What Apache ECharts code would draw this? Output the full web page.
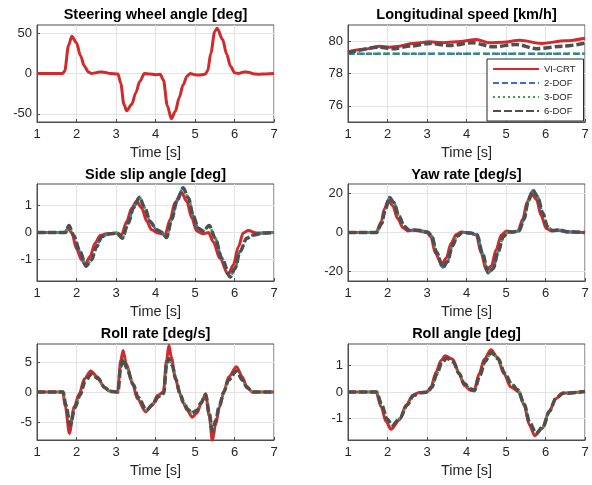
<!DOCTYPE html>
<html><head><meta charset="utf-8">
<script src="https://cdn.jsdelivr.net/npm/echarts@6/dist/echarts.min.js"></script>
<style>html,body{margin:0;padding:0;background:#fff}#c{width:592px;height:485px}</style>
</head><body><div id="c"></div>
<script>
// ---- data: [time s, value] pairs ----
const xTicks = [1, 2, 3, 4, 5, 6, 7];
const panelTitles = ['Steering wheel angle [deg]', 'Longitudinal speed [km/h]', 'Side slip angle [deg]', 'Yaw rate [deg/s]', 'Roll rate [deg/s]', 'Roll angle [deg]'];
const seriesNames = ['VI-CRT', '2-DOF', '3-DOF', '6-DOF'];
const yRanges = [[-60, 60], [75, 81], [-1.8, 1.8], [-25, 25], [-8, 8], [-1.8, 1.8]];
const yTicks = [[-50, 0, 50], [76, 78, 80], [-1, 0, 1], [-20, 0, 20], [-5, 0, 5], [-1, 0, 1]];

const steerCRT = [[1,0],[1.65,0],[1.7,3],[1.8,35],[1.88,46],[2.0,38],[2.1,22],[2.2,9],[2.3,2],[2.38,0],[2.5,1],[2.6,2],[2.7,1.5],[2.85,0],[3.05,-0.5],[3.12,-12],[3.2,-38],[3.27,-46],[3.4,-38],[3.5,-24],[3.6,-10],[3.72,0],[3.85,-0.5],[4.0,-1.5],[4.12,-1],[4.2,-8],[4.3,-40],[4.4,-56],[4.5,-47],[4.6,-30],[4.7,-14],[4.8,-3],[4.88,0],[5.0,-1.5],[5.1,-2],[5.25,-1],[5.32,3],[5.4,25],[5.5,52],[5.56,56],[5.7,42],[5.8,24],[5.9,9],[6.0,1],[6.1,0],[6.25,2],[6.35,1.5],[6.5,-0.5],[6.6,-1],[6.8,-0.5],[7,0]];

const speedCRT = [[1,79.34],[1.37,79.48],[1.8,79.69],[2.05,79.63],[2.3,79.69],[2.64,79.86],[3.06,79.96],[3.4,79.9],[3.74,79.96],[4.25,80.1],[4.58,79.9],[4.92,79.94],[5.35,80.05],[5.9,79.86],[6.5,80.02],[7,80.18]];
const speed2DOF = [[1,79.22],[7,79.22]];
const speed3DOF = [[1,79.22],[7,79.22]];
const speed6DOF = [[1,79.28],[1.8,79.63],[2.13,79.53],[2.6,79.7],[3.06,79.86],[3.57,79.73],[4.16,79.9],[4.67,79.65],[5.26,79.8],[5.77,79.53],[6.44,79.69],[7,79.88]];

const slipCRT = [[1,0],[1.7,0],[1.79,0.14],[1.88,0],[2.0,-0.6],[2.13,-1.02],[2.22,-1.19],[2.34,-0.9],[2.47,-0.4],[2.6,-0.11],[2.76,-0.05],[3.02,-0.02],[3.14,-0.09],[3.27,0.41],[3.4,0.91],[3.52,1.16],[3.65,0.91],[3.78,0.41],[3.9,0.1],[4.07,-0.02],[4.24,-0.09],[4.37,0.48],[4.49,1.1],[4.66,1.48],[4.79,1.16],[4.92,0.54],[5.04,0.06],[5.21,-0.05],[5.34,0],[5.46,-0.34],[5.63,-0.96],[5.84,-1.56],[5.97,-1.21],[6.1,-0.52],[6.22,-0.02],[6.35,0.07],[6.56,-0.02],[7,0]];
const slip6DOF = [[1,0],[1.72,0],[1.81,0.26],[1.92,-0.09],[2.09,-0.71],[2.24,-1.25],[2.38,-1.02],[2.51,-0.52],[2.64,-0.15],[2.85,-0.05],[3.02,-0.02],[3.16,-0.21],[3.31,0.35],[3.44,0.91],[3.59,1.31],[3.73,0.91],[3.86,0.41],[4.03,0.1],[4.16,0.01],[4.28,-0.19],[4.41,0.48],[4.54,1.16],[4.7,1.66],[4.83,1.29],[4.96,0.6],[5.08,0.16],[5.21,0.06],[5.36,0.26],[5.51,-0.21],[5.68,-0.96],[5.89,-1.65],[6.01,-1.34],[6.14,-0.71],[6.31,-0.21],[6.48,-0.09],[6.73,-0.02],[7,0]];

const yawCRT = [[1,0],[1.71,0],[1.84,5.4],[1.92,12.1],[2.02,16.6],[2.13,13.8],[2.26,7.1],[2.39,2.5],[2.51,0.8],[2.64,1.2],[2.81,0.8],[3.0,0],[3.1,-2.2],[3.21,-10.6],[3.37,-16.4],[3.49,-13.1],[3.61,-5.5],[3.74,-1],[3.87,0.2],[4.08,-0.2],[4.25,-1.3],[4.37,-10.6],[4.5,-19.4],[4.63,-17.3],[4.75,-8.9],[4.88,-1.3],[5.01,0.8],[5.18,0.3],[5.3,0.8],[5.43,7.1],[5.53,15.5],[5.64,20],[5.77,17.1],[5.89,8.7],[6.02,2],[6.15,0.8],[6.32,1.2],[6.53,0.3],[7,0]];
const yaw6DOF = [[1,0],[1.72,0],[1.85,4.5],[1.94,11.5],[2.05,18],[2.16,15.5],[2.29,8.5],[2.42,3.2],[2.55,1.2],[2.68,1.3],[2.85,1],[3.02,0.2],[3.12,-1.8],[3.24,-10],[3.4,-18],[3.52,-15],[3.64,-7],[3.77,-1.8],[3.9,0],[4.1,-0.2],[4.27,-1.2],[4.4,-10.5],[4.55,-20.8],[4.68,-18.5],[4.8,-10],[4.93,-2.2],[5.05,0.2],[5.2,0.3],[5.33,0.8],[5.46,7],[5.56,16],[5.68,21.8],[5.8,18.5],[5.93,10],[6.05,3],[6.18,1],[6.35,1.3],[6.56,0.4],[7,0]];

const rollRateCRT = [[1,0],[1.65,0],[1.72,-2.5],[1.82,-6.9],[1.94,-2.5],[2.07,-0.3],[2.2,2.2],[2.36,3.5],[2.53,2.5],[2.7,0.8],[2.83,0.15],[3.04,0],[3.12,5.3],[3.18,6.9],[3.26,4.7],[3.42,1.4],[3.54,-1.1],[3.75,-3.3],[3.92,-2.2],[4.05,-0.6],[4.2,0],[4.28,5.3],[4.34,7.8],[4.4,5.8],[4.5,2.5],[4.6,0],[4.7,-1.8],[4.8,-3],[4.93,-4.2],[5.05,-3.5],[5.15,-2],[5.27,-0.3],[5.36,-4],[5.44,-8.1],[5.52,-5.5],[5.62,-2.5],[5.73,0],[5.85,2.5],[6.05,4.2],[6.2,2.5],[6.3,1],[6.45,0],[7,0]];
const rollRate6DOF = [[1,0],[1.66,0],[1.73,-2.2],[1.84,-5.5],[1.96,-2.6],[2.09,-0.5],[2.22,1.8],[2.38,3.0],[2.55,2.2],[2.72,0.7],[2.85,0.1],[3.05,0],[3.12,4.2],[3.18,5.5],[3.27,4.0],[3.44,1.2],[3.56,-0.9],[3.77,-3.0],[3.94,-2.0],[4.07,-0.8],[4.21,-0.2],[4.28,4.5],[4.33,5.6],[4.42,4.5],[4.52,2.0],[4.62,-0.3],[4.72,-1.8],[4.82,-2.9],[4.92,-3.5],[5.05,-3.1],[5.15,-1.8],[5.27,-0.4],[5.36,-3.5],[5.44,-6.5],[5.52,-4.8],[5.62,-2.2],[5.73,0],[5.85,2.0],[6.05,3.5],[6.2,2.0],[6.32,0.7],[6.47,0],[7,0]];

const rollCRT = [[1,0],[1.71,0],[1.84,-0.56],[1.96,-1.1],[2.09,-1.4],[2.3,-1.05],[2.47,-0.5],[2.64,-0.12],[2.8,-0.02],[3.0,0],[3.1,0.19],[3.23,0.74],[3.35,1.17],[3.46,1.36],[3.65,1.23],[3.82,0.68],[3.94,0.25],[4.11,0.06],[4.19,0.04],[4.32,0.68],[4.45,1.23],[4.62,1.58],[4.78,1.3],[4.95,0.68],[5.12,0.19],[5.33,0],[5.46,-0.5],[5.59,-1.23],[5.73,-1.64],[5.92,-1.36],[6.09,-0.74],[6.26,-0.25],[6.43,-0.04],[7,0.02]];
const roll6DOF = [[1,0],[1.72,0],[1.86,-0.5],[1.98,-1.0],[2.12,-1.25],[2.32,-0.98],[2.5,-0.48],[2.66,-0.13],[2.83,-0.03],[3.02,0],[3.12,0.17],[3.25,0.68],[3.37,1.08],[3.5,1.27],[3.66,1.13],[3.82,0.68],[3.94,0.32],[4.1,0.12],[4.2,0.06],[4.34,0.62],[4.47,1.15],[4.63,1.48],[4.8,1.25],[4.97,0.7],[5.14,0.3],[5.3,0.08],[5.46,-0.45],[5.6,-1.15],[5.76,-1.55],[5.94,-1.3],[6.1,-0.72],[6.27,-0.22],[6.45,-0.05],[7,0.02]];

// ---- layout & style ----
const FONT = '"Liberation Sans", Arial, Helvetica, sans-serif';
const INK = '#262626';
const BOX = '#4d4d4d';
const GRIDC = '#e3e3e3';
const STY = {
  'VI-CRT': {color: '#d22a2a', width: 3, type: 'solid'},
  '2-DOF': {color: '#3a6fc4', width: 2.5, type: [6, 3]},
  '3-DOF': {color: '#3aa34a', width: 2.5, type: [2, 3]},
  '6-DOF': {color: '#4f4f4f', width: 3.5, type: [8, 3]}
};
const grids = [
  {left: 37, top: 25, width: 237, height: 97},
  {left: 348, top: 25, width: 237, height: 97},
  {left: 37, top: 184, width: 237, height: 97},
  {left: 348, top: 184, width: 237, height: 97},
  {left: 37, top: 344, width: 237, height: 96},
  {left: 348, top: 344, width: 237, height: 96}
];
const titleY = [7, 167, 326];

const panels = [
  [['VI-CRT', steerCRT]],
  [['VI-CRT', speedCRT], ['2-DOF', speed2DOF], ['3-DOF', speed3DOF], ['6-DOF', speed6DOF]],
  [['VI-CRT', slipCRT], ['2-DOF', slip6DOF], ['3-DOF', slip6DOF], ['6-DOF', slip6DOF]],
  [['VI-CRT', yawCRT], ['2-DOF', yaw6DOF], ['3-DOF', yaw6DOF], ['6-DOF', yaw6DOF]],
  [['VI-CRT', rollRateCRT], ['3-DOF', rollRate6DOF], ['6-DOF', rollRate6DOF]],
  [['VI-CRT', rollCRT], ['3-DOF', roll6DOF], ['6-DOF', roll6DOF]]
];

const series = [];
panels.forEach((p, gi) => {
  p.forEach(([name, data]) => {
    const s = STY[name];
    series.push({
      type: 'line', name, data, xAxisIndex: gi, yAxisIndex: gi,
      showSymbol: false, symbol: 'none', smooth: 0.3, smoothMonotone: 'x',
      itemStyle: {color: s.color},
      lineStyle: {color: s.color, width: s.width, type: s.type, cap: 'butt'},
      emphasis: {disabled: true}, silent: true, clip: true
    });
  });
});

const option = {
  animation: false,
  backgroundColor: '#fff',
  textStyle: {fontFamily: FONT},
  title: panelTitles.map((t, i) => ({
    text: t,
    left: grids[i].left + grids[i].width / 2,
    top: titleY[Math.floor(i / 2)],
    textAlign: 'center',
    padding: 0,
    textStyle: {fontFamily: FONT, fontSize: 14.5, fontWeight: 'bold', color: '#000', lineHeight: 16}
  })),
  legend: {
    data: seriesNames,
    orient: 'vertical',
    left: 487, top: 59,
    padding: [5, 8, 5, 5],
    itemWidth: 46, itemHeight: 10, itemGap: 4,
    backgroundColor: '#fff',
    borderColor: INK, borderWidth: 1, borderRadius: 0,
    itemStyle: {opacity: 0},
    textStyle: {fontFamily: FONT, fontSize: 9.5, color: INK},
    selectedMode: false
  },
  grid: grids.map(g => Object.assign({show: true, borderColor: BOX, borderWidth: 1, backgroundColor: '#fff', containLabel: false}, g)),
  xAxis: grids.map((g, i) => ({
    type: 'value', gridIndex: i, min: xTicks[0], max: xTicks[xTicks.length - 1], interval: 1,
    name: 'Time [s]', nameLocation: 'middle', nameGap: 23,
    nameTextStyle: {fontFamily: FONT, fontSize: 14.5, color: INK},
    axisLine: {show: true, onZero: false, lineStyle: {color: BOX, width: 1}},
    axisTick: {show: true, inside: true, length: 3, lineStyle: {color: BOX}},
    axisLabel: {fontFamily: FONT, fontSize: 13, color: INK, margin: 6},
    splitLine: {show: true, lineStyle: {color: GRIDC, width: 1}}
  })),
  yAxis: grids.map((g, i) => ({
    type: 'value', gridIndex: i, min: yRanges[i][0], max: yRanges[i][1],
    axisLine: {show: true, onZero: false, lineStyle: {color: BOX, width: 1}},
    axisTick: {show: true, inside: true, length: 3, lineStyle: {color: BOX}, customValues: yTicks[i]},
    axisLabel: {fontFamily: FONT, fontSize: 13, color: INK, margin: 5, customValues: yTicks[i]},
    splitLine: {show: true, lineStyle: {color: GRIDC, width: 1}}
  })),
  series
};
const chart = echarts.init(document.getElementById('c'), null, {renderer: 'canvas'});
chart.setOption(option);
</script>
</body></html>
